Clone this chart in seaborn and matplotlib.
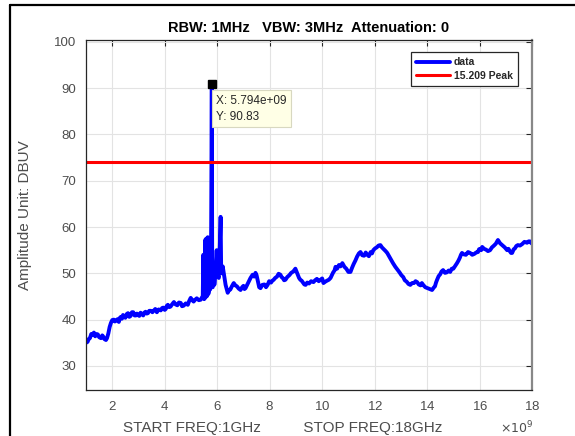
import matplotlib
matplotlib.use("Agg")
import matplotlib.pyplot as plt
from matplotlib.ticker import ScalarFormatter
from matplotlib.lines import Line2D
import numpy as np
import pandas as pd
import seaborn as sns

# frecuencia en GHz y amplitud en DBUV
freq_ghz = [1.00, 1.06, 1.10, 1.15, 1.20, 1.25, 1.30, 1.35, 1.40, 1.45, 1.50, 1.57, 1.62, 1.66,
            1.70, 1.76, 1.80, 1.85, 1.90, 1.95, 2.00, 2.06, 2.10, 2.15, 2.20, 2.25, 2.29, 2.33,
            2.37, 2.41, 2.45, 2.50, 2.55, 2.60, 2.65, 2.70, 2.75, 2.80, 2.85, 2.90, 2.94, 2.98,
            3.03, 3.08, 3.13, 3.18, 3.22, 3.27, 3.31, 3.36, 3.41, 3.47, 3.53, 3.59, 3.64, 3.70,
            3.77, 3.85, 3.90, 3.95, 4.00, 4.04, 4.08, 4.12, 4.17, 4.22, 4.28, 4.35, 4.41, 4.48,
            4.54, 4.61, 4.66, 4.72, 4.80, 4.88, 4.93, 4.99, 5.05, 5.10, 5.16, 5.22, 5.30, 5.37,
            5.42, 5.45, 5.47, 5.49, 5.51, 5.52, 5.54, 5.56, 5.58, 5.60, 5.62, 5.64, 5.66, 5.68,
            5.70, 5.71, 5.73, 5.75, 5.77, 5.794, 5.81, 5.83, 5.85, 5.87, 5.89, 5.90, 5.94, 5.98,
            6.02, 6.06, 6.10, 6.13, 6.15, 6.17, 6.21, 6.25, 6.32, 6.40, 6.45, 6.50, 6.56, 6.63,
            6.69, 6.75, 6.82, 6.89, 6.95, 7.00, 7.04, 7.08, 7.14, 7.20, 7.27, 7.35, 7.41, 7.46,
            7.50, 7.55, 7.60, 7.65, 7.72, 7.80, 7.86, 7.92, 7.98, 8.05, 8.10, 8.15, 8.21, 8.28,
            8.34, 8.41, 8.45, 8.50, 8.55, 8.60, 8.67, 8.75, 8.82, 8.90, 8.98, 9.03, 9.08, 9.12,
            9.17, 9.22, 9.27, 9.32, 9.37, 9.43, 9.50, 9.58, 9.67, 9.73, 9.80, 9.87, 9.94, 10.00,
            10.05, 10.12, 10.18, 10.25, 10.32, 10.37, 10.42, 10.47, 10.51, 10.57, 10.64, 10.70,
            10.77, 10.85, 10.92, 11.00, 11.08, 11.14, 11.20, 11.27, 11.33, 11.40, 11.46, 11.53,
            11.60, 11.66, 11.72, 11.78, 11.85, 11.90, 11.95, 12.02, 12.08, 12.15, 12.22, 12.28,
            12.35, 12.42, 12.48, 12.55, 12.62, 12.70, 12.79, 12.87, 12.95, 13.02, 13.09, 13.15,
            13.22, 13.29, 13.36, 13.43, 13.50, 13.56, 13.62, 13.68, 13.75, 13.80, 13.85, 13.93,
            14.02, 14.10, 14.19, 14.25, 14.30, 14.34, 14.38, 14.44, 14.50, 14.55, 14.61, 14.68,
            14.75, 14.82, 14.88, 14.94, 15.00, 15.07, 15.14, 15.20, 15.25, 15.29, 15.33, 15.40,
            15.48, 15.56, 15.64, 15.72, 15.80, 15.87, 15.94, 15.98, 16.02, 16.06, 16.10, 16.17,
            16.25, 16.32, 16.40, 16.47, 16.55, 16.62, 16.70, 16.78, 16.88, 16.96, 17.05, 17.10,
            17.15, 17.20, 17.24, 17.30, 17.35, 17.40, 17.46, 17.54, 17.62, 17.71, 17.81, 17.87,
            17.92, 17.96, 18.00]
amp_dbuv = [35.0, 35.2, 35.8, 36.0, 36.9, 36.7, 37.2, 36.4, 36.9, 36.8, 36.2, 36.0, 36.6, 36.3,
            35.8, 35.6, 36.0, 37.0, 38.4, 39.3, 39.9, 40.0, 39.6, 39.8, 40.1, 39.5, 40.4, 40.6,
            40.2, 41.0, 40.6, 40.4, 41.2, 41.4, 40.6, 40.8, 41.6, 41.6, 40.9, 40.9, 41.3, 41.0,
            40.8, 41.5, 41.2, 40.9, 41.5, 41.7, 41.3, 41.4, 41.9, 41.9, 41.6, 42.0, 42.3, 41.6,
            42.2, 42.0, 42.5, 42.6, 42.1, 42.3, 43.0, 43.2, 42.7, 42.8, 43.3, 43.8, 43.3, 43.1,
            43.7, 43.6, 42.9, 43.0, 43.5, 43.2, 44.0, 44.7, 44.2, 43.9, 44.3, 44.6, 44.2, 44.3,
            44.8, 45.0, 54.0, 44.5, 51.0, 44.5, 57.2, 45.0, 57.5, 45.0, 52.0, 57.8, 45.5, 46.0,
            57.0, 55.0, 46.5, 47.0, 60.0, 90.83, 48.0, 47.0, 52.0, 52.0, 47.5, 48.0, 51.0, 55.0,
            49.5, 49.0, 56.0, 62.2, 51.0, 50.0, 51.5, 50.1, 47.5, 45.8, 46.4, 46.5, 47.2, 47.9,
            47.4, 47.2, 46.7, 46.4, 47.0, 47.3, 46.6, 46.8, 47.5, 48.2, 49.0, 49.7, 49.3, 50.1,
            49.6, 48.3, 47.0, 46.8, 47.5, 47.6, 47.0, 47.5, 48.3, 48.0, 48.4, 48.6, 49.0, 49.3,
            49.9, 49.7, 49.2, 49.0, 48.5, 48.6, 49.2, 49.6, 50.1, 50.4, 51.0, 50.3, 49.6, 49.0,
            48.6, 48.4, 48.0, 47.6, 47.5, 48.0, 47.8, 48.3, 48.1, 48.5, 48.8, 48.3, 48.6, 48.9,
            47.9, 48.2, 48.4, 48.6, 49.0, 49.6, 50.2, 50.6, 51.4, 51.0, 51.8, 51.5, 52.2, 51.4,
            51.0, 50.3, 50.3, 51.2, 52.0, 52.8, 53.6, 54.3, 54.6, 53.9, 53.8, 54.5, 54.0, 53.7,
            54.6, 54.3, 55.0, 55.4, 55.6, 56.0, 56.1, 55.6, 55.2, 54.8, 54.4, 53.7, 53.0, 52.2,
            51.4, 50.8, 50.2, 49.6, 49.2, 48.5, 48.2, 47.7, 47.5, 47.9, 47.9, 48.3, 48.1, 47.6,
            47.4, 47.9, 47.5, 47.0, 46.8, 46.6, 46.4, 46.9, 47.2, 48.0, 48.6, 49.4, 49.8, 50.4,
            50.7, 50.1, 50.2, 50.6, 50.3, 51.0, 51.0, 51.6, 52.2, 52.8, 53.4, 54.0, 54.4, 54.1,
            54.0, 54.6, 54.4, 54.0, 54.2, 54.5, 54.6, 55.2, 55.3, 55.0, 55.7, 55.3, 55.1, 54.8,
            55.0, 55.6, 56.0, 56.4, 57.2, 56.5, 56.0, 55.6, 55.0, 55.3, 54.8, 54.4, 54.4, 55.2,
            55.4, 55.9, 56.1, 56.0, 56.3, 56.8, 56.6, 56.9, 56.9, 56.6,
            56.4]

limite = 74.0
pico_x = 5.794e9
pico_y = 90.83

titulo = 'RBW: 1MHz   VBW: 3MHz  Attenuation: 0'
etiqueta_x = 'START FREQ:1GHz          STOP FREQ:18GHz'
etiqueta_y = 'Amplitude Unit: DBUV'

df = pd.DataFrame({'freq': np.array(freq_ghz) * 1e9, 'amp': amp_dbuv})

sns.set_style('whitegrid')
plt.rcParams['font.family'] = ['Liberation Sans', 'DejaVu Sans']

fig = plt.figure(figsize=(5.75, 4.36), dpi=100)
ax = fig.add_axes([0.1496, 0.1055, 0.7757, 0.8028])

sns.lineplot(data=df, x='freq', y='amp', ax=ax, color='#0000ff', linewidth=2.8,
             estimator=None, sort=False, label='data')
ax.axhline(limite, color='#ff0000', linewidth=2.2, label='15.209 Peak')

# data tip del pico
ax.plot([pico_x], [pico_y], marker='s', color='black', markersize=6, linestyle='none')
ax.text(5.95e9, 88.6, 'X: 5.794e+09\nY: 90.83', fontsize=8.5, color='#262626',
        va='top', ha='left', linespacing=1.5,
        bbox=dict(boxstyle='square,pad=0.35', facecolor='#ffffe6', edgecolor='#d8d8c0', linewidth=0.8))

ax.set_xlim(1e9, 18e9)
ax.set_ylim(24.8, 100.4)
ax.set_xticks(np.arange(2, 19, 2) * 1e9)
ax.set_yticks(np.arange(30, 101, 10))
fmt = ScalarFormatter(useMathText=True)
fmt.set_powerlimits((9, 9))
ax.xaxis.set_major_formatter(fmt)
ax.xaxis.get_offset_text().set_visible(False)
fig.text(500 / 575, 1 - 428 / 436, r'$\times10^9$', fontsize=9, color='#4d4d4d',
         ha='left', va='center')

ax.tick_params(direction='in', top=True, right=True, length=4, width=0.8,
               colors='#262626', labelcolor='#4d4d4d', labelsize=9.5, pad=7)
ax.grid(True, color='#e3e3e3', linewidth=0.8)
for s in ax.spines.values():
    s.set_color('#262626')
    s.set_linewidth(0.9)
ax.spines['right'].set_color('#888888')
ax.spines['right'].set_linewidth(1.6)

ax.set_title(titulo, fontsize=10.5, fontweight='bold', color='black', pad=6)
ax.set_xlabel(etiqueta_x, fontsize=11, color='#4d4d4d')
ax.xaxis.set_label_coords(0.44, -0.088)
ax.set_ylabel(etiqueta_y, fontsize=11, color='#4d4d4d')
ax.yaxis.set_label_coords(-0.12, 0.5)

leg = ax.legend(loc='upper right', bbox_to_anchor=(0.98, 0.98), frameon=True, fancybox=False,
                prop={'weight': 'bold', 'size': 7.5}, handlelength=3.2, borderpad=0.5,
                labelspacing=0.3, handletextpad=0.4)
leg.get_frame().set_edgecolor('#262626')
leg.get_frame().set_linewidth(0.9)
leg.get_frame().set_alpha(1)

# marco negro de la captura
fig.add_artist(Line2D([10 / 575, 10 / 575], [0, 1 - 5 / 436], color='black', linewidth=1.6,
                      transform=fig.transFigure))
fig.add_artist(Line2D([10 / 575, 1], [1 - 5 / 436, 1 - 5 / 436], color='black', linewidth=1.6,
                      transform=fig.transFigure))

plt.savefig('out.png', dpi=100)
